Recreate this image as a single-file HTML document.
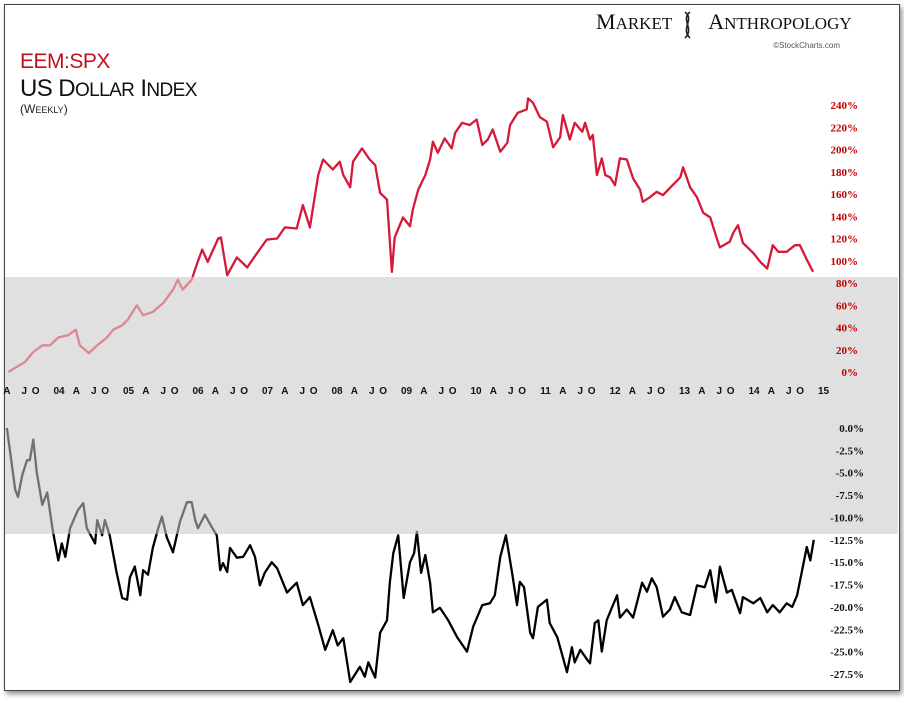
<!DOCTYPE html>
<html><head><meta charset="utf-8"><style>
body{margin:0;width:904px;height:702px;background:#fff;overflow:hidden;font-family:"Liberation Sans",sans-serif}
#frame{position:absolute;left:4px;top:4px;width:894px;height:685px;border:1px solid #444;box-shadow:2px 3px 5px rgba(0,0,0,.45);background:#fff}
svg{position:absolute;left:0;top:0}
</style></head><body>
<div id="frame"></div>
<svg id="chart" width="904" height="702">
  <rect x="5" y="277" width="893" height="257" fill="#e0e0e0"/>
  <defs>
    <clipPath id="outBand"><rect x="0" y="0" width="904" height="277"/><rect x="0" y="534" width="904" height="170"/></clipPath>
    <clipPath id="inBand"><rect x="0" y="277" width="904" height="257"/></clipPath>
  </defs>
  <text x="20" y="68" font-family="Liberation Sans,sans-serif" font-size="21" fill="#c0101e" letter-spacing="-0.5">EEM:SPX</text>
  <text x="20" y="96" font-family="Liberation Sans,sans-serif" font-size="24" fill="#111" letter-spacing="-0.6">US D<tspan font-size="19">OLLAR</tspan> I<tspan font-size="19">NDEX</tspan></text>
  <text x="20" y="113" font-family="Liberation Sans,sans-serif" font-size="12" fill="#222">(W<tspan font-size="9">EEKLY</tspan>)</text>
  <text x="596" y="29" font-family="Liberation Serif,serif" font-size="22" fill="#111">M<tspan font-size="17">ARKET</tspan><tspan dx="36">A</tspan><tspan font-size="17">NTHROPOLOGY</tspan></text>
  <g stroke="#222" stroke-width="1.6" fill="none"><path d="M685 12 C695 20,680 28,690 38"/><path d="M690 12 C680 20,695 28,685 38"/></g>
  <text x="840" y="48" text-anchor="end" font-family="Liberation Sans,sans-serif" font-size="8" fill="#555">©StockCharts.com</text>
  <g id="axes"></g>
  <g id="series"></g>
</svg>
<script>
const redDates=[2003.27,2003.51,2003.63,2003.76,2003.87,2003.99,2004.13,2004.24,2004.30,2004.43,2004.55,2004.69,2004.78,2004.91,2004.99,2005.12,2005.21,2005.35,2005.50,2005.64,2005.71,2005.78,2005.91,2005.99,2006.06,2006.14,2006.29,2006.33,2006.42,2006.56,2006.71,2006.85,2006.99,2007.14,2007.25,2007.42,2007.51,2007.61,2007.73,2007.80,2007.94,2008.04,2008.09,2008.19,2008.23,2008.36,2008.47,2008.55,2008.62,2008.72,2008.79,2008.83,2008.95,2009.05,2009.09,2009.17,2009.27,2009.34,2009.38,2009.45,2009.55,2009.65,2009.70,2009.80,2009.91,2010.01,2010.09,2010.17,2010.24,2010.35,2010.45,2010.49,2010.60,2010.73,2010.75,2010.82,2010.92,2011.02,2011.11,2011.21,2011.25,2011.35,2011.42,2011.53,2011.57,2011.64,2011.68,2011.74,2011.81,2011.86,2011.93,2012.00,2012.07,2012.17,2012.26,2012.36,2012.40,2012.50,2012.60,2012.69,2012.83,2012.94,2012.98,2013.08,2013.18,2013.27,2013.37,2013.47,2013.51,2013.65,2013.70,2013.77,2013.84,2013.99,2014.09,2014.19,2014.27,2014.35,2014.47,2014.59,2014.66,2014.76,2014.85];
const redValues=[0,9,18,24,24,31,33,38,24,17,24,31,38,42,47,60,51,54,62,74,83,74,83,98,110,99,120,121,87,103,94,107,119,120,130,129,150,130,177,191,182,189,177,166,189,201,191,186,161,155,90,121,139,131,146,164,177,191,207,197,210,201,215,224,222,227,204,209,218,198,206,222,233,236,246,242,229,225,202,211,231,209,224,216,224,209,213,177,192,177,175,168,192,191,174,164,153,157,162,159,168,175,184,166,157,143,139,119,112,117,125,132,116,107,99,93,114,108,108,114,114,101,90];
const blackDates=[2003.25,2003.37,2003.41,2003.47,2003.54,2003.58,2003.63,2003.68,2003.76,2003.83,2003.91,2003.99,2004.04,2004.09,2004.16,2004.27,2004.35,2004.40,2004.52,2004.55,2004.62,2004.66,2004.73,2004.83,2004.91,2004.98,2005.02,2005.09,2005.17,2005.21,2005.28,2005.35,2005.42,2005.48,2005.55,2005.64,2005.74,2005.84,2005.91,2005.96,2006.00,2006.10,2006.20,2006.27,2006.32,2006.36,2006.42,2006.46,2006.56,2006.65,2006.75,2006.82,2006.89,2006.96,2007.06,2007.14,2007.28,2007.42,2007.51,2007.61,2007.73,2007.83,2007.94,2008.01,2008.09,2008.19,2008.33,2008.40,2008.45,2008.55,2008.62,2008.72,2008.76,2008.81,2008.88,2008.96,2009.05,2009.11,2009.15,2009.21,2009.27,2009.34,2009.38,2009.48,2009.60,2009.73,2009.87,2009.96,2010.09,2010.20,2010.27,2010.35,2010.43,2010.52,2010.59,2010.63,2010.69,2010.78,2010.82,2010.89,2011.02,2011.06,2011.17,2011.31,2011.38,2011.42,2011.50,2011.60,2011.64,2011.71,2011.76,2011.81,2011.88,2011.96,2012.03,2012.07,2012.17,2012.26,2012.39,2012.46,2012.53,2012.60,2012.69,2012.79,2012.86,2012.96,2013.08,2013.18,2013.29,2013.37,2013.45,2013.51,2013.61,2013.68,2013.80,2013.84,2013.99,2014.09,2014.19,2014.27,2014.37,2014.47,2014.55,2014.62,2014.76,2014.81,2014.86];
const blackValues=[0,-6.9,-7.7,-5.3,-3.6,-3.6,-1.3,-5.0,-8.6,-7.2,-11.4,-14.8,-12.9,-14.4,-11.2,-9.2,-8.4,-11.2,-12.9,-10.3,-12.0,-10.3,-12.0,-16.2,-19.0,-19.2,-16.7,-15.5,-18.7,-15.9,-16.4,-13.4,-11.4,-9.9,-12.2,-13.9,-10.5,-8.3,-8.3,-10.3,-11.2,-9.7,-11.1,-12.0,-15.9,-15.1,-16.1,-13.4,-14.5,-14.4,-13.1,-14.4,-17.6,-16.2,-15.0,-15.7,-18.4,-17.3,-19.8,-18.9,-22.0,-24.8,-22.6,-24.3,-23.5,-28.4,-26.7,-27.8,-26.2,-27.9,-22.9,-21.5,-17.3,-14.0,-12.0,-19.0,-15.0,-14.0,-11.6,-16.2,-14.2,-17.3,-20.6,-20.1,-21.5,-23.4,-25.0,-22.2,-19.8,-19.6,-18.7,-14.4,-12.0,-16.2,-19.8,-17.2,-17.8,-22.9,-23.5,-20.0,-19.2,-21.8,-23.4,-27.3,-24.5,-26.2,-24.8,-25.9,-26.3,-21.8,-21.5,-25.0,-21.5,-20.0,-18.7,-21.2,-20.3,-21.2,-17.3,-18.3,-16.8,-17.8,-21.1,-20.3,-18.9,-20.6,-20.9,-17.6,-17.8,-15.9,-19.5,-15.5,-18.4,-18.1,-20.7,-18.9,-19.6,-19.0,-20.6,-19.8,-20.6,-19.6,-20.0,-18.7,-13.3,-14.8,-12.5];
const redTicks=[0,20,40,60,80,100,120,140,160,180,200,220,240];
const blackTicks=[0,-2.5,-5,-7.5,-10,-12.5,-15,-17.5,-20,-22.5,-25,-27.5];
const quarterLabels=["A","J","O"];
const yearLabels=["04","05","06","07","08","09","10","11","12","13","14","15"];

const NS="http://www.w3.org/2000/svg";
const xS=d=>59+(d-2004)*69.5;
const yR=v=>372-v*1.1125;
const yB=v=>428-v*8.945;
function mk(tag,attrs,parent){const e=document.createElementNS(NS,tag);for(const k in attrs)e.setAttribute(k,attrs[k]);parent.appendChild(e);return e;}
const axes=document.getElementById('axes'),series=document.getElementById('series');
redTicks.forEach(v=>{const t=mk('text',{x:858,y:yR(v)+4,'text-anchor':'end','font-family':'Liberation Serif,serif','font-size':11,'font-weight':'bold',fill:'#c00000'},axes);t.textContent=v+'%';

});
blackTicks.forEach(v=>{const t=mk('text',{x:864,y:yB(v)+4,'text-anchor':'end','font-family':'Liberation Serif,serif','font-size':11,'font-weight':'bold',fill:'#111'},axes);t.textContent=v.toFixed(1)+'%';

});
for(let y=2003;y<=2015;y++){
  if(y>=2004){const t=mk('text',{x:xS(y),y:394,'text-anchor':'middle','font-family':'Liberation Sans,sans-serif','font-size':10,'font-weight':'bold',fill:'#111'},axes);t.textContent=yearLabels[y-2004];
  
  }
  if(y<2015)quarterLabels.forEach((q,i)=>{const t=mk('text',{x:xS(y+0.25*(i+1))+(i==2?-6:0),y:394,'text-anchor':'middle','font-family':'Liberation Sans,sans-serif','font-size':10,'font-weight':'bold',fill:'#111'},axes);t.textContent=q;
  
  });
}
function pathD(ds,vs,ys){return ds.map((d,i)=>(i?'L':'M')+xS(d).toFixed(1)+' '+ys(vs[i]).toFixed(1)).join(' ');}
const rd=pathD(redDates,redValues,yR), bd=pathD(blackDates,blackValues,yB);
const r1=mk('path',{d:rd,fill:'none',stroke:'#d41a38','stroke-width':2.3,'clip-path':'url(#outBand)','stroke-linejoin':'round'},series);


const r2=mk('path',{d:rd,fill:'none',stroke:'#d41a38','stroke-width':2.3,'clip-path':'url(#inBand)',opacity:0.45,'stroke-linejoin':'round'},series);


const b1=mk('path',{d:bd,fill:'none',stroke:'#000','stroke-width':2.3,'clip-path':'url(#outBand)','stroke-linejoin':'round'},series);


const b2=mk('path',{d:bd,fill:'none',stroke:'#000','stroke-width':2.3,'clip-path':'url(#inBand)',opacity:0.5,'stroke-linejoin':'round'},series);


</script>
</body></html>
